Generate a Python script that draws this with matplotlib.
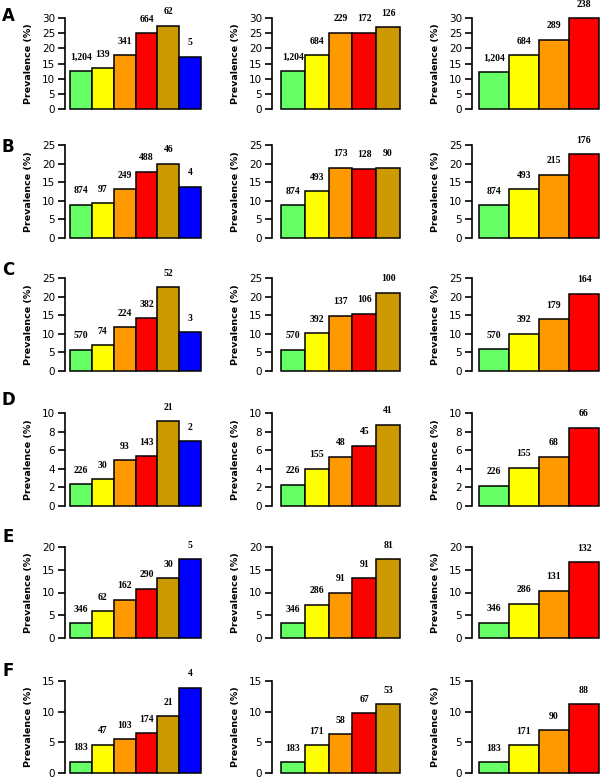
import numpy as np
import matplotlib
matplotlib.use("Agg")
import matplotlib.pyplot as plt

# ── Data (prevalence %, counts above bars) ───────────────────────────────────
panel_letters = ["A", "B", "C", "D", "E", "F"]
y_max = [30, 25, 25, 10, 20, 15]
y_step = [5, 5, 5, 2, 5, 5]

colors_6 = ["#66FF66", "#FFFF00", "#FF9900", "#FF0000", "#CC9900", "#0000FF"]

prev_A = [[12.4, 13.5, 17.8, 25.0, 27.4, 17.3],
          [12.4, 17.8, 25.2, 25.2, 26.9],
          [12.2, 17.7, 22.8, 30.0]]
count_A = [["1,204", "139", "341", "664", "62", "5"],
           ["1,204", "684", "229", "172", "126"],
           ["1,204", "684", "289", "238"]]

prev_B = [[9.0, 9.3, 13.2, 17.8, 20.0, 13.8],
          [8.9, 12.5, 18.9, 18.6, 18.9],
          [8.9, 13.1, 17.0, 22.5]]
count_B = [["874", "97", "249", "488", "46", "4"],
           ["874", "493", "173", "128", "90"],
           ["874", "493", "215", "176"]]

prev_C = [[5.7, 6.9, 11.8, 14.2, 22.6, 10.5],
          [5.7, 10.2, 14.9, 15.4, 21.1],
          [5.8, 10.0, 14.0, 20.8]]
count_C = [["570", "74", "224", "382", "52", "3"],
           ["570", "392", "137", "106", "100"],
           ["570", "392", "179", "164"]]

prev_D = [[2.35, 2.9, 4.95, 5.35, 9.15, 7.0],
          [2.3, 4.0, 5.3, 6.5, 8.75],
          [2.2, 4.1, 5.3, 8.4]]
count_D = [["226", "30", "93", "143", "21", "2"],
           ["226", "155", "48", "45", "41"],
           ["226", "155", "68", "66"]]

prev_E = [[3.3, 5.9, 8.4, 10.8, 13.2, 17.3],
          [3.3, 7.3, 10.0, 13.2, 17.3],
          [3.4, 7.5, 10.4, 16.7]]
count_E = [["346", "62", "162", "290", "30", "5"],
           ["346", "286", "91", "91", "81"],
           ["346", "286", "131", "132"]]

prev_F = [[1.85, 4.6, 5.5, 6.5, 9.3, 13.9],
          [1.8, 4.5, 6.3, 9.8, 11.2],
          [1.8, 4.5, 7.0, 11.2]]
count_F = [["183", "47", "103", "174", "21", "4"],
           ["183", "171", "58", "67", "53"],
           ["183", "171", "90", "88"]]

all_prev = [prev_A, prev_B, prev_C, prev_D, prev_E, prev_F]
all_count = [count_A, count_B, count_C, count_D, count_E, count_F]

# ── Layout in pixels (figure 600 x 779) ──────────────────────────────────────
W, H = 600, 779
row_top = [18, 145, 278, 413, 547, 681]
row_bot = [109, 238, 371, 506, 638, 773]
col_left = [65, 272, 472]
col_right = [201, 400, 599]
col_xmin = [-0.23, -0.38, -0.23]
letter_y = [16, 147, 270, 400, 537, 671]

fig = plt.figure(figsize=(W / 100, H / 100), dpi=100)

for r in range(6):
    for c in range(3):
        vals = all_prev[r][c]
        labs = all_count[r][c]
        n = len(vals)
        ax = fig.add_axes([col_left[c] / W, 1 - row_bot[r] / H,
                           (col_right[c] - col_left[c]) / W,
                           (row_bot[r] - row_top[r]) / H])
        x = np.arange(n)
        ax.bar(x, vals, width=1.0, align="edge", color=colors_6[:n],
               edgecolor="black", linewidth=1.1, clip_on=False)
        for xi, v, lab in zip(x, vals, labs):
            ax.annotate(lab, xy=(xi + 0.5, v), xytext=(0, 10),
                        textcoords="offset points", ha="center", va="center",
                        fontsize=7, fontweight="bold", family="Liberation Serif",
                        annotation_clip=False)
        ax.set_xlim(col_xmin[c], n)
        ax.set_ylim(0, y_max[r])
        ax.set_yticks(np.arange(0, y_max[r] + 0.1, y_step[r]))
        ax.set_xticks([])
        for s in ["top", "right", "bottom"]:
            ax.spines[s].set_visible(False)
        ax.spines["left"].set_linewidth(1.2)
        ax.tick_params(axis="y", length=5, width=1.2, labelsize=7.5, pad=2)
        ax.set_ylabel("Prevalence (%)", fontsize=6.8, fontweight="bold")
        axw = col_right[c] - col_left[c]
        ax.yaxis.set_label_coords(-32 / axw, 0.5)
        ax.patch.set_visible(False)

    fig.text(8 / W, 1 - letter_y[r] / H, panel_letters[r], fontsize=12,
             fontweight="bold", ha="center", va="center")

fig.savefig("out.png", dpi=100)
